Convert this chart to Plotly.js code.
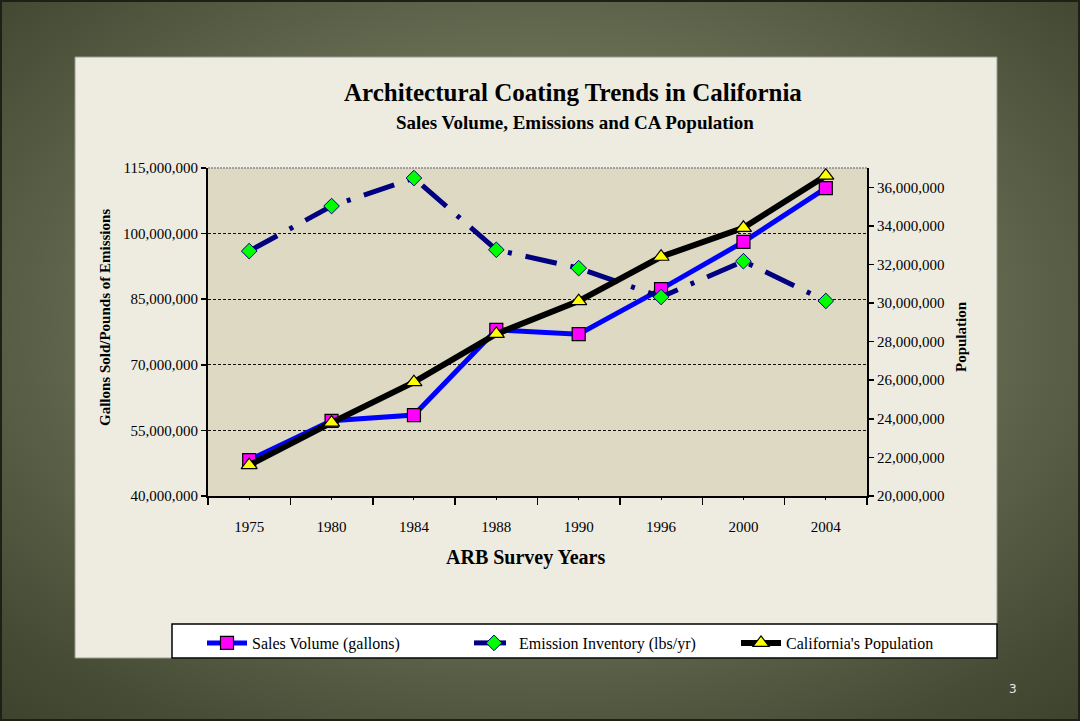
<!DOCTYPE html>
<html>
<head>
<meta charset="utf-8">
<script src="https://cdn.plot.ly/plotly-3.0.1.min.js"></script>
<style>
  html, body { margin:0; padding:0; width:1080px; height:721px; overflow:hidden; }
  body { background: radial-gradient(ellipse 75% 75% at 50% 45%, #858b6e 0%, #6b7156 45%, #474c36 85%, #3d422e 100%); }
  #frame { position:absolute; left:0; top:0; width:1076px; height:717px; border:2px solid #1e2016; }
  #chart { position:absolute; left:0; top:0; width:1080px; height:721px; }
</style>
</head>
<body>
<div id="frame"></div>
<div id="chart"></div>
<script>
const years = ['1975','1980','1984','1988','1990','1996','2000','2004'];
const salesVolume = [48200000, 57200000, 58500000, 78000000, 77000000, 87300000, 98100000, 110400000];
const emissions = [96000000, 106300000, 112700000, 96300000, 92100000, 85500000, 93700000, 84600000];
const population = [21600000, 23800000, 25900000, 28400000, 30100000, 32400000, 33900000, 36600000];
const leftTicks = [40000000, 55000000, 70000000, 85000000, 100000000, 115000000];
const rightTicks = [20000000, 22000000, 24000000, 26000000, 28000000, 30000000, 32000000, 34000000, 36000000];

const serif = 'Liberation Serif, Times New Roman, serif';
const fmt = v => v.toLocaleString('en-US');

const traces = [
  { x: years, y: salesVolume, name: 'Sales Volume (gallons)', type: 'scatter', mode: 'lines+markers',
    line: { color: '#0000FF', width: 5 },
    marker: { symbol: 'square', size: 13, color: '#FF00FF', line: { color: '#000000', width: 1.2 } } },
  { x: years, y: emissions, name: 'Emission Inventory (lbs/yr)', type: 'scatter', mode: 'lines+markers',
    line: { color: '#000080', width: 5, dash: '32px,14px,4px,14px' },
    marker: { symbol: 'diamond', size: 12, color: '#00FF00', line: { color: '#000080', width: 1 } } },
  { x: years, y: population, name: "California's Population", type: 'scatter', mode: 'lines+markers', yaxis: 'y2',
    line: { color: '#000000', width: 6 },
    marker: { symbol: 'triangle-up', size: 14, color: '#FFFF00', line: { color: '#000000', width: 1.2 } } },
  { x: [0,1,2,3,4,5,6,7], y: [null,null,null,null,null,null,null,null], xaxis: 'x2', showlegend: false, hoverinfo: 'skip', type: 'scatter', mode: 'lines' }
];

const L = 208, R = 867, T = 168, B = 496, W = 1080, H = 721;
const pw = R - L, ph = B - T;
const px = x => (x - L) / pw;
const py = y => (B - y) / ph;

const layout = {
  width: W, height: H,
  margin: { l: L, r: W - R, t: T, b: H - B, pad: 0 },
  paper_bgcolor: 'rgba(0,0,0,0)',
  plot_bgcolor: 'rgba(0,0,0,0)',
  font: { family: serif, color: '#000000', size: 15 },
  showlegend: true,
  xaxis: {
    type: 'category', range: [-0.5, 7.5], tickson: 'boundaries',
    ticks: 'outside', ticklen: 7, tickwidth: 1.5, tickcolor: '#000',
    showline: true, linecolor: '#000', linewidth: 2, showgrid: false,
    tickfont: { family: serif, size: 15 }, ticklabelstandoff: 16
  },
  xaxis2: {
    overlaying: 'x', anchor: 'y', type: 'linear', range: [-0.5, 7.5],
    tickvals: [0,1,2,3,4,5,6,7], ticks: 'outside', ticklen: 3, tickwidth: 1, tickcolor: '#000',
    showticklabels: false, showgrid: false, showline: false, zeroline: false
  },
  yaxis: {
    range: [40000000, 115000000], tickvals: leftTicks, ticktext: leftTicks.map(fmt),
    ticks: 'outside', ticklen: 5, tickwidth: 1.5, tickcolor: '#000',
    showline: true, linecolor: '#000', linewidth: 2,
    showgrid: true, gridcolor: '#111', gridwidth: 1, griddash: '3px,2px', zeroline: false,
    tickfont: { family: serif, size: 15 }
  },
  yaxis2: {
    overlaying: 'y', side: 'right', range: [20000000, 37000000],
    tickvals: rightTicks, ticktext: rightTicks.map(fmt),
    ticks: 'outside', ticklen: 5, tickwidth: 1.5, tickcolor: '#000',
    showline: true, linecolor: '#000', linewidth: 2, showgrid: false, zeroline: false,
    tickfont: { family: serif, size: 15 }
  },
  legend: {
    orientation: 'h', x: px(202), xanchor: 'left', y: py(626), yanchor: 'top',
    bgcolor: 'rgba(0,0,0,0)', borderwidth: 0,
    font: { family: serif, size: 16, color: '#000' },
    entrywidth: 212, itemwidth: 40, tracegroupgap: 0
  },
  shapes: [
    { type: 'rect', xref: 'paper', yref: 'paper', x0: px(75), x1: px(997), y0: py(658), y1: py(57),
      fillcolor: '#EEECE1', line: { color: '#9a9a90', width: 1 }, layer: 'below' },
    { type: 'rect', xref: 'paper', yref: 'paper', x0: 0, x1: 1, y0: 0, y1: 1,
      fillcolor: '#DDD9C3', line: { width: 0 }, layer: 'below' },
    { type: 'rect', xref: 'paper', yref: 'paper', x0: px(172), x1: px(997), y0: py(658), y1: py(624),
      fillcolor: '#FFFFFF', line: { color: '#000000', width: 1.5 }, layer: 'below' },
    { type: 'line', xref: 'paper', yref: 'paper', x0: 0, x1: 1, y0: 1, y1: 1,
      line: { color: '#8a8a8a', width: 1.5, dash: '2px,1px' } }
  ],
  annotations: [
    { text: '<b>Architectural Coating Trends in California</b>', xref: 'paper', yref: 'paper',
      x: px(573), y: py(93), xanchor: 'center', yanchor: 'middle', showarrow: false,
      font: { family: serif, size: 25, color: '#000' } },
    { text: '<b>Sales Volume, Emissions and CA Population</b>', xref: 'paper', yref: 'paper',
      x: px(575), y: py(122), xanchor: 'center', yanchor: 'middle', showarrow: false,
      font: { family: serif, size: 19, color: '#000' } },
    { text: '<b>ARB Survey Years</b>', xref: 'paper', yref: 'paper',
      x: px(525), y: py(557), xanchor: 'center', yanchor: 'middle', showarrow: false,
      font: { family: serif, size: 20, color: '#000' } },
    { text: '<b>Gallons Sold/Pounds of Emissions</b>', xref: 'paper', yref: 'paper',
      x: px(105), y: py(318), xanchor: 'center', yanchor: 'middle', showarrow: false, textangle: -90,
      font: { family: serif, size: 15, color: '#000' } },
    { text: '<b>Population</b>', xref: 'paper', yref: 'paper',
      x: px(961), y: py(337), xanchor: 'center', yanchor: 'middle', showarrow: false, textangle: -90,
      font: { family: serif, size: 15, color: '#000' } },
    { text: '3', xref: 'paper', yref: 'paper',
      x: px(1013), y: py(689), xanchor: 'center', yanchor: 'middle', showarrow: false,
      font: { family: 'DejaVu Sans, sans-serif', size: 12, color: '#e8e8e0' } }
  ]
};

Plotly.newPlot('chart', traces, layout, { displayModeBar: false, staticPlot: true });
</script>
</body>
</html>
